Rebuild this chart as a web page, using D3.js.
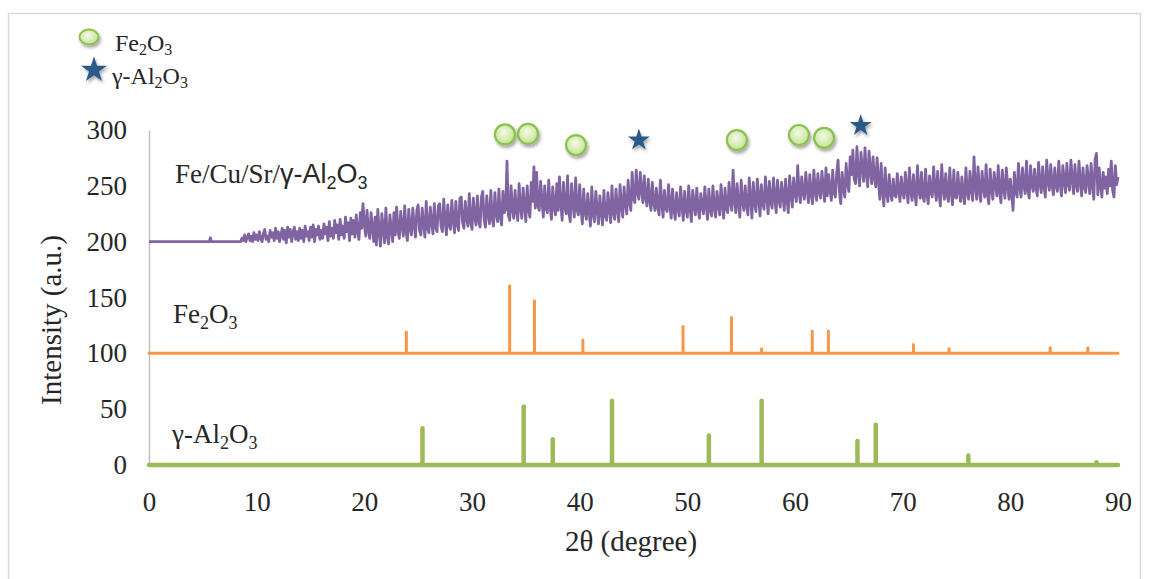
<!DOCTYPE html>
<html>
<head>
<meta charset="utf-8">
<script src="https://cdn.jsdelivr.net/npm/d3@7/dist/d3.min.js"></script>
<style>
  html, body { margin: 0; padding: 0; background: #fff; }
  svg { display: block; }
  svg text { font-family: "Liberation Serif", "DejaVu Serif", serif; fill: #262626; }
  svg text tspan.sans { font-family: "Liberation Sans", "DejaVu Sans", sans-serif; }
</style>
</head>
<body>
<svg id="chart" width="1149" height="579"></svg>
<script>
// ---------------- DATA ----------------
const xTicks = [0, 10, 20, 30, 40, 50, 60, 70, 80, 90];
const yTicks = [0, 50, 100, 150, 200, 250, 300];

// Fe2O3 reference pattern (offset baseline 100)
const fe2o3Base = 100;
const fe2o3Angles  = [23.9, 33.5, 35.8, 40.3, 49.6, 54.1, 56.9, 61.6, 63.1, 71.0, 74.3, 83.7, 87.2];
const fe2o3Heights = [119, 160.5, 147, 112, 124, 132, 104, 120, 120, 108, 104, 105, 105];

// gamma-Al2O3 reference pattern (baseline 0)
const aluminaBase = 0;
const aluminaAngles  = [25.4, 34.8, 37.5, 43.0, 52.0, 56.9, 65.8, 67.5, 76.1, 88.0];
const aluminaHeights = [33, 52.5, 23, 57.5, 26.5, 57.5, 21.5, 36, 8.5, 2.5];

// Fe/Cu/Sr/gamma-Al2O3 measured pattern
const sampleHead = [[0, 200], [5.6, 200], [5.7, 203.5], [5.8, 200], [8.375, 200]];
const sampleStart = 8.5, sampleStep = 0.125;
const sampleValues = [
  200,203,201,206,
  200,204,207,201,205,200,208,202,
  206,201,209,203,200,207,211,202,
  205,200,210,204,208,201,212,203,
  209,200,206,212,202,210,199,213,
  204,211,200,208,213,202,209,201,
  212,203,210,200,214,205,209,201,
  213,204,215,200,211,206,214,202,
  210,203,216,207,213,201,218,205,
  212,203,219,208,215,202,220,206,
  214,203,222,209,217,201,221,207,
  219,204,224,210,202,226,212,234,
  216,205,228,210,203,226,212,200,
  222,197,229,209,196,225,212,199,
  230,205,198,224,211,200,226,206,
  231,210,203,227,214,205,232,209,
  201,229,212,206,230,215,204,228,
  233,210,206,230,216,204,236,212,
  208,231,218,207,234,213,209,232,
  234,214,209,238,219,206,233,215,
  211,237,220,208,236,216,210,239,
  240,217,212,236,221,214,243,218,
  211,239,222,215,241,219,213,240,
  245,220,213,241,224,216,246,221,
  214,244,225,218,247,222,215,245,
  226,229,272,224,219,250,230,221,
  246,228,219,252,231,221,248,233,
  218,250,229,222,253,236,267,230,
  262,232,228,254,236,222,250,230,
  226,255,233,220,249,231,224,252,
  228,258,234,219,253,231,225,259,
  226,218,252,235,222,257,229,224,
  251,230,216,247,226,220,243,228,
  214,249,225,218,245,229,216,241,
  227,215,246,224,219,244,230,217,
  250,226,220,247,229,218,251,232,
  222,249,234,225,255,236,228,262,
  238,235,264,244,238,262,246,235,
  259,240,232,256,238,228,253,235,
  228,248,232,224,255,234,222,246,
  230,227,251,233,221,247,229,220,
  244,230,223,249,232,219,245,229,
  222,250,231,218,246,233,224,248,
  230,221,243,232,225,249,233,220,
  247,229,223,250,231,222,245,233,
  224,251,234,221,248,230,226,253,
  236,228,264,238,226,252,234,222,
  255,236,228,250,233,224,257,238,
  221,253,235,227,256,240,223,251,
  234,229,258,241,225,254,236,230,
  257,240,226,255,238,231,253,242,
  228,256,239,226,259,243,231,257,
  244,236,268,245,235,258,244,238,
  262,247,235,260,243,234,264,246,
  237,261,245,239,263,248,236,266,
  241,260,247,237,264,244,240,262,
  273,245,234,262,248,240,270,252,
  245,276,260,282,256,252,285,262,
  250,280,266,254,284,262,249,281,
  264,252,276,258,249,275,255,238,
  270,246,232,266,244,236,260,243,
  237,256,242,240,261,246,236,258,
  244,239,262,247,235,266,245,237,
  260,244,233,268,246,239,262,241,
  236,265,243,234,259,245,240,267,
  248,237,263,244,232,269,247,238,
  261,242,236,266,245,233,264,240,
  239,262,246,236,258,242,234,266,
  244,238,263,247,237,276,249,238,
  267,245,236,263,248,240,269,243,
  234,265,247,238,262,250,241,268,
  246,235,264,248,239,266,251,238,
  256,243,228,262,246,240,270,249,
  240,266,251,243,272,247,239,268,
  251,245,265,249,241,271,252,244,
  267,250,240,273,254,246,269,251,
  242,266,250,245,272,253,241,268,
  255,244,270,252,246,273,256,243,
  269,251,245,272,254,241,266,250,
  244,268,255,243,270,252,238,274,
  279,242,266,251,240,262,248,258,
  243,265,250,272,246,240,268,251,
  258
];

// phase markers above the pattern
const fe2o3MarkX = [33.06, 35.2, 39.66, 54.6, 60.37, 62.7];
const fe2o3MarkY = [296, 296.5, 286.5, 291, 295.5, 293];
const aluminaMarkX = [45.5, 66.1];
const aluminaMarkY = [291, 304];

// ---------------- CHART ----------------
const svg = d3.select("#chart");
const x = d3.scaleLinear().domain([0, 90]).range([149, 1118]);
const y = d3.scaleLinear().domain([0, 300]).range([465, 130]);
const SERIF = '"Liberation Serif", "DejaVu Serif", serif';

const defs = svg.append("defs");
const shadow = defs.append("filter").attr("id", "shadow")
  .attr("x", "-50%").attr("y", "-50%").attr("width", "200%").attr("height", "200%");
shadow.append("feDropShadow").attr("dx", 1.5).attr("dy", 2.5).attr("stdDeviation", 1.6)
  .attr("flood-color", "#000").attr("flood-opacity", 0.35);
const rg = defs.append("radialGradient").attr("id", "ballFill")
  .attr("cx", "45%").attr("cy", "40%").attr("r", "60%");
rg.append("stop").attr("offset", "0%").attr("stop-color", "#f2fae6");
rg.append("stop").attr("offset", "100%").attr("stop-color", "#c3e394");

// outer border
svg.append("rect").attr("x", 8.5).attr("y", 13.5).attr("width", 1132).attr("height", 580)
  .attr("fill", "none").attr("stroke", "#d9d9d9").attr("stroke-width", 1.5);

// y axis
const yAxis = svg.append("g").attr("transform", `translate(${x(0)},0)`)
  .call(d3.axisLeft(y).tickValues(yTicks).tickSize(0).tickSizeOuter(0).tickPadding(22));
yAxis.attr("font-family", SERIF);
yAxis.select(".domain").attr("stroke", "#bfbfbf").attr("stroke-width", 1.5);
yAxis.selectAll("text").style("font-size", "27px").style("font-family", SERIF).attr("fill", "#262626");

// x axis
const xAxis = svg.append("g").attr("transform", `translate(0,${y(0)})`)
  .call(d3.axisBottom(x).tickValues(xTicks).tickSize(0).tickSizeOuter(0).tickPadding(27));
xAxis.attr("font-family", SERIF);
xAxis.select(".domain").remove();
xAxis.selectAll("text").style("font-size", "27px").style("font-family", SERIF).attr("fill", "#262626");

// axis titles
svg.append("text").attr("x", 631).attr("y", 551).attr("text-anchor", "middle")
  .style("font-size", "29px").style("font-family", SERIF).text("2θ (degree)");
svg.append("text").attr("transform", "translate(61,320) rotate(-90)").attr("text-anchor", "middle")
  .style("font-size", "29px").style("font-family", SERIF).text("Intensity (a.u.)");

const line = d3.line().x(d => x(d[0])).y(d => y(d[1]));

function stickPoints(base, angles, heights) {
  const pts = [[0, base]];
  angles.forEach((a, i) => { pts.push([a, base], [a, heights[i]], [a, base]); });
  pts.push([90, base]);
  return pts;
}

// gamma-Al2O3 sticks
svg.append("path").datum(stickPoints(aluminaBase, aluminaAngles, aluminaHeights))
  .attr("d", line).attr("fill", "none").attr("stroke", "#9bbb59")
  .attr("stroke-width", 4.5).attr("stroke-linejoin", "round").attr("stroke-linecap", "round");

// Fe2O3 sticks
svg.append("path").datum(stickPoints(fe2o3Base, fe2o3Angles, fe2o3Heights))
  .attr("d", line).attr("fill", "none").attr("stroke", "#f79646")
  .attr("stroke-width", 3).attr("stroke-linejoin", "round").attr("stroke-linecap", "round");

// sample pattern
const samplePts = sampleHead.concat(sampleValues.map((v, i) => [sampleStart + i * sampleStep, v]));
svg.append("path").datum(samplePts)
  .attr("d", line).attr("fill", "none").attr("stroke", "#8064a2")
  .attr("stroke-width", 2.8).attr("stroke-linejoin", "round");

// markers
const star = d3.symbol().type(d3.symbolStar);
svg.append("g").selectAll("circle").data(fe2o3MarkX).join("circle")
  .attr("cx", d => x(d)).attr("cy", (d, i) => y(fe2o3MarkY[i])).attr("r", 10)
  .attr("fill", "url(#ballFill)").attr("stroke", "#8dc14f").attr("stroke-width", 2.2)
  .attr("filter", "url(#shadow)");
svg.append("g").selectAll("path").data(aluminaMarkX).join("path")
  .attr("transform", (d, i) => `translate(${x(d)},${y(aluminaMarkY[i])})`)
  .attr("d", star.size(150)()).attr("fill", "#2b5a8a").attr("filter", "url(#shadow)");

// series labels
function chem(sel, parts, size) {
  parts.forEach(p => {
    const t = sel.append("tspan").text(p.t);
    if (p.sub) t.style("font-size", Math.round(size * 0.65) + "px").attr("dy", p.dy);
    else if (p.dy) t.attr("dy", p.dy);
    if (p.sans) t.attr("class", "sans");
  });
}
const lbl1 = svg.append("text").attr("x", 175).attr("y", 183).style("font-size", "27px");
chem(lbl1, [{t: "Fe/Cu/Sr/"}, {t: "γ-Al", sans: true}, {t: "2", sub: true, dy: 6, sans: true},
            {t: "O", dy: -6, sans: true}, {t: "3", sub: true, dy: 6, sans: true}], 27);
const lbl2 = svg.append("text").attr("x", 173).attr("y", 323).style("font-size", "27px");
chem(lbl2, [{t: "Fe"}, {t: "2", sub: true, dy: 6}, {t: "O", dy: -6}, {t: "3", sub: true, dy: 6}], 27);
const lbl3 = svg.append("text").attr("x", 172).attr("y", 443).style("font-size", "27px");
chem(lbl3, [{t: "γ-Al"}, {t: "2", sub: true, dy: 6}, {t: "O", dy: -6}, {t: "3", sub: true, dy: 6}], 27);

// legend
svg.append("ellipse").attr("cx", 89).attr("cy", 37).attr("rx", 9.5).attr("ry", 7.5)
  .attr("fill", "url(#ballFill)").attr("stroke", "#8dc14f").attr("stroke-width", 2)
  .attr("filter", "url(#shadow)");
svg.append("path").attr("transform", "translate(94,70)").attr("d", star.size(210)())
  .attr("fill", "#2b5a8a").attr("filter", "url(#shadow)");
const lg1 = svg.append("text").attr("x", 115).attr("y", 51).style("font-size", "24px");
chem(lg1, [{t: "Fe"}, {t: "2", sub: true, dy: 4}, {t: "O", dy: -4}, {t: "3", sub: true, dy: 4}], 24);
const lg2 = svg.append("text").attr("x", 112).attr("y", 84).style("font-size", "24px");
chem(lg2, [{t: "γ-Al"}, {t: "2", sub: true, dy: 4}, {t: "O", dy: -4}, {t: "3", sub: true, dy: 4}], 24);
</script>
</body>
</html>
